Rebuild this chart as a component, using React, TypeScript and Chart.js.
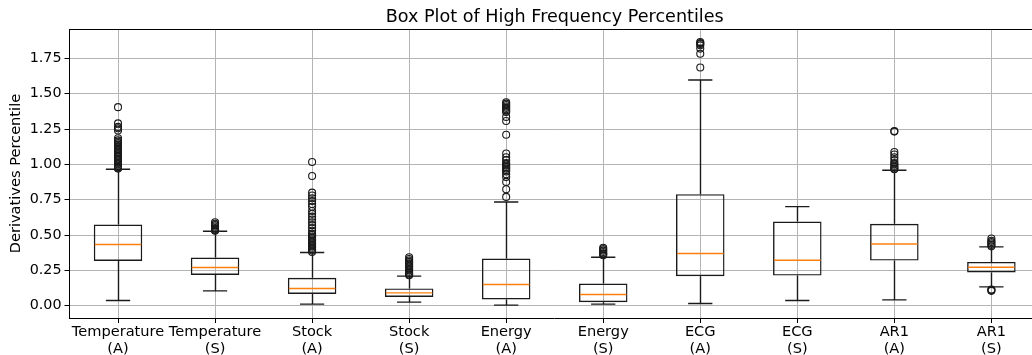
import React, { useEffect, useRef } from "react";
import { Chart, registerables } from "chart.js";

Chart.register(...registerables);

// ---- data ----
const categoryNames = ["Temperature", "Temperature", "Stock", "Stock", "Energy", "Energy", "ECG", "ECG", "AR1", "AR1"];
const categoryKinds = ["(A)", "(S)", "(A)", "(S)", "(A)", "(S)", "(A)", "(S)", "(A)", "(S)"];

const whiskerLow = [0.037, 0.105, 0.011, 0.025, 0.004, 0.011, 0.016, 0.037, 0.041, 0.133];
const quartile1 = [0.317, 0.218, 0.083, 0.062, 0.044, 0.025, 0.209, 0.213, 0.319, 0.235];
const medians = [0.433, 0.270, 0.122, 0.091, 0.150, 0.079, 0.369, 0.322, 0.437, 0.272];
const quartile3 = [0.574, 0.341, 0.197, 0.122, 0.334, 0.157, 0.789, 0.595, 0.579, 0.310];
const whiskerHigh = [0.965, 0.527, 0.376, 0.209, 0.734, 0.343, 1.597, 0.701, 0.958, 0.416];

const outliersTemperatureA = [0.97, 0.975, 0.98, 0.99, 1.0, 1.01, 1.02, 1.03, 1.04, 1.05, 1.06, 1.07, 1.08, 1.09, 1.1, 1.11, 1.12, 1.13, 1.14, 1.15, 1.16, 1.17, 1.185, 1.24, 1.255, 1.265, 1.29, 1.405];
const outliersTemperatureS = [0.53, 0.535, 0.54, 0.55, 0.56, 0.57, 0.58, 0.59];
const outliersStockA = [0.38, 0.39, 0.4, 0.41, 0.42, 0.43, 0.44, 0.45, 0.46, 0.47, 0.48, 0.49, 0.5, 0.51, 0.53, 0.55, 0.57, 0.59, 0.61, 0.63, 0.65, 0.67, 0.7, 0.72, 0.74, 0.76, 0.78, 0.8, 0.918, 1.017];
const outliersStockS = [0.215, 0.22, 0.23, 0.24, 0.25, 0.26, 0.27, 0.28, 0.29, 0.3, 0.31, 0.32, 0.33, 0.343];
const outliersEnergyA = [0.77, 0.824, 0.876, 0.91, 0.93, 0.95, 0.96, 0.97, 0.98, 0.99, 1.0, 1.01, 1.03, 1.05, 1.077, 1.21, 1.307, 1.336, 1.37, 1.38, 1.39, 1.4, 1.41, 1.42, 1.43, 1.44];
const outliersEnergyS = [0.357, 0.365, 0.37, 0.38, 0.39, 0.4, 0.41];
const outliersEcgA = [1.685, 1.783, 1.819, 1.842, 1.852, 1.858, 1.866];
const outliersEcgS: number[] = [];
const outliersAr1A = [0.965, 0.97, 0.98, 0.99, 1.0, 1.01, 1.03, 1.05, 1.07, 1.088, 1.232, 1.236];
const outliersAr1S = [0.105, 0.11, 0.115, 0.42, 0.43, 0.44, 0.45, 0.46, 0.475];

const outlierGroups = [
  outliersTemperatureA, outliersTemperatureS, outliersStockA, outliersStockS, outliersEnergyA,
  outliersEnergyS, outliersEcgA, outliersEcgS, outliersAr1A, outliersAr1S,
];

const yTicks = [0, 0.25, 0.5, 0.75, 1.0, 1.25, 1.5, 1.75];
const yMin = -0.087;
const yMax = 1.957;
const xMin = 0.5;
const xMax = 10.5;

const TITLE = "Box Plot of High Frequency Percentiles";
const Y_LABEL = "Derivatives Percentile";

// ---- styles ----
const FONT = "'DejaVu Sans', sans-serif";
const BOX_HALF = 0.25; // in x units
const CAP_HALF = 0.125;
const LINE_W = 1.4;
const MEDIAN_COLOR = "#ff7f0e";
const GRID_COLOR = "#b4b4b4";
const EDGE_COLOR = "#1a1a1a";

const boxLinesPlugin = {
  id: "boxLines",
  afterDatasetsDraw(chart: any) {
    const { ctx, chartArea } = chart;
    const x = chart.scales.x;
    const y = chart.scales.y;
    ctx.save();
    ctx.beginPath();
    ctx.rect(chartArea.left, chartArea.top, chartArea.right - chartArea.left, chartArea.bottom - chartArea.top);
    ctx.clip();
    ctx.lineWidth = LINE_W;
    categoryNames.forEach((_, i) => {
      const pos = i + 1;
      const xc = Math.round(x.getPixelForValue(pos)) + 0.5;
      const yLo = y.getPixelForValue(whiskerLow[i]);
      const yQ1 = y.getPixelForValue(quartile1[i]);
      const yQ3 = y.getPixelForValue(quartile3[i]);
      const yHi = y.getPixelForValue(whiskerHigh[i]);
      const yMed = y.getPixelForValue(medians[i]);
      ctx.strokeStyle = EDGE_COLOR;
      ctx.beginPath();
      ctx.moveTo(xc, yQ1);
      ctx.lineTo(xc, yLo);
      ctx.moveTo(xc, yQ3);
      ctx.lineTo(xc, yHi);
      ctx.moveTo(x.getPixelForValue(pos - CAP_HALF), yLo);
      ctx.lineTo(x.getPixelForValue(pos + CAP_HALF), yLo);
      ctx.moveTo(x.getPixelForValue(pos - CAP_HALF), yHi);
      ctx.lineTo(x.getPixelForValue(pos + CAP_HALF), yHi);
      ctx.stroke();
      ctx.strokeStyle = MEDIAN_COLOR;
      ctx.beginPath();
      ctx.moveTo(x.getPixelForValue(pos - BOX_HALF) + 1, yMed);
      ctx.lineTo(x.getPixelForValue(pos + BOX_HALF) - 1, yMed);
      ctx.stroke();
    });
    ctx.restore();
    // top and right spines
    ctx.save();
    ctx.strokeStyle = "#000";
    ctx.lineWidth = 1;
    ctx.beginPath();
    ctx.moveTo(chartArea.left, Math.round(chartArea.top) + 0.5);
    ctx.lineTo(chartArea.right, Math.round(chartArea.top) + 0.5);
    ctx.moveTo(Math.round(chartArea.right) - 0.5, chartArea.top);
    ctx.lineTo(Math.round(chartArea.right) - 0.5, chartArea.bottom);
    ctx.stroke();
    ctx.restore();
  },
};

export default function App() {
  const canvasRef = useRef<HTMLCanvasElement | null>(null);

  useEffect(() => {
    const canvas = canvasRef.current;
    if (!canvas) return;

    const boxData = categoryNames.map((_, i) => ({ x: i + 1, y: [quartile1[i], quartile3[i]] }));
    const outlierData: { x: number; y: number }[] = [];
    outlierGroups.forEach((group, i) => {
      group.forEach((v) => outlierData.push({ x: i + 1, y: v }));
    });

    const chart = new Chart(canvas, {
      type: "bar",
      data: {
        datasets: [
          {
            type: "bar",
            data: boxData as any,
            backgroundColor: "rgba(0,0,0,0)",
            borderColor: EDGE_COLOR,
            borderWidth: LINE_W,
            borderSkipped: false,
            categoryPercentage: 1,
            barPercentage: 0.5,
          } as any,
          {
            type: "scatter",
            data: outlierData,
            pointStyle: "circle",
            pointRadius: 3.5,
            pointBorderWidth: 1.1,
            pointBorderColor: EDGE_COLOR,
            pointBackgroundColor: "rgba(0,0,0,0)",
            showLine: false,
          } as any,
        ],
      },
      options: {
        responsive: false,
        animation: false,
        devicePixelRatio: 1,
        layout: { padding: { left: 0, right: 3, top: 0, bottom: 0 } },
        plugins: {
          legend: { display: false },
          tooltip: { enabled: false },
          title: {
            display: true,
            text: TITLE,
            color: "#000",
            fullSize: false,
            font: { family: FONT, size: 17.6, weight: "normal", lineHeight: 1.2 },
            padding: { top: 7, bottom: 1 },
          },
        },
        scales: {
          x: {
            type: "linear",
            min: xMin,
            max: xMax,
            offset: false,
            afterFit: (scale: any) => {
              scale.height = 37;
            },
            afterBuildTicks: (scale: any) => {
              scale.ticks = categoryNames.map((_, i) => ({ value: i + 1 }));
            },
            grid: {
              offset: false,
              color: GRID_COLOR,
              lineWidth: 1,
              tickColor: "#000",
              tickLength: 5,
              drawTicks: true,
            },
            border: { display: true, color: "#000", width: 1 },
            ticks: {
              autoSkip: false,
              maxRotation: 0,
              minRotation: 0,
              padding: 1,
              color: "#000",
              font: { family: FONT, size: 14.6, lineHeight: 1.15 },
              callback: (_v: any, index: number) => [categoryNames[index], categoryKinds[index]],
            },
          },
          y: {
            type: "linear",
            min: yMin,
            max: yMax,
            beginAtZero: false,
            afterFit: (scale: any) => {
              scale.width = 69.5;
            },
            afterBuildTicks: (scale: any) => {
              scale.ticks = yTicks.map((v) => ({ value: v }));
            },
            grid: {
              color: GRID_COLOR,
              lineWidth: 1,
              tickColor: "#000",
              tickLength: 5,
            },
            border: { display: true, color: "#000", width: 1 },
            ticks: {
              padding: 3,
              color: "#000",
              font: { family: FONT, size: 14.3 },
              callback: (v: any) => Number(v).toFixed(2),
            },
            title: {
              display: true,
              text: Y_LABEL,
              color: "#000",
              font: { family: FONT, size: 14.6, lineHeight: 1.2 },
              padding: { top: 7.2, bottom: 0 },
            },
          },
        },
      } as any,
      plugins: [boxLinesPlugin],
    });

    return () => chart.destroy();
  }, []);

  return (
    <div style={{ position: "fixed", left: 0, top: 0, width: 1032, height: 355, overflow: "hidden", background: "#fff" }}>
      <canvas ref={canvasRef} width={1045} height={355} style={{ display: "block" }} />
    </div>
  );
}
